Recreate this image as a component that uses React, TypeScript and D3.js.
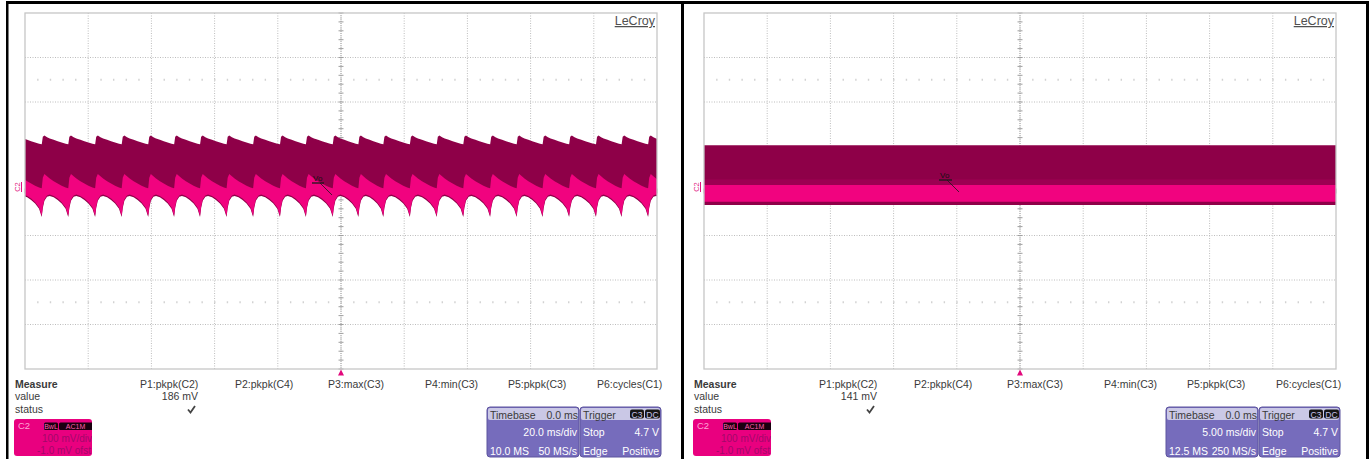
import React from "react";
import * as d3 from "d3";

// left capture: C2 ripple at 20 ms/div, jump (cusp) times, ms
const leftCycleStarts = [
  -103.1, -94.7, -86.3, -77.8, -69.4, -61.0, -52.8, -44.6, -36.2, -27.8, -19.3, -11.1, -2.6,
  5.5, 13.4, 21.8, 30.3, 38.7, 47.2, 55.6, 63.8, 72.2, 80.7, 88.8, 97.2, 105.5,
];
// one ripple cycle, fraction of the cycle -> mV
const ripplePhase = [0, 0.04, 0.1, 0.2, 0.3, 0.45, 0.6, 0.75, 0.9, 0.995];
const rippleTop = [105, 122, 125, 121, 118, 115, 112, 109, 106, 105];
const ripplePinkTop = [7, 30, 38, 33, 28, 22, 17, 12, 8, 6];
const rippleBottom = [-58, -38, -22, -13, -11, -14, -20, -28, -40, -58];

// right capture: 5 ms/div, flat band, mV
const rightTimes = [-25, 25];
const rightTop = [103, 103];
const rightMidTop = [26, 26];
const rightPinkTop = [13.5, 13.5];
const rightPinkBottom = [-24, -24];
const rightBottom = [-31.5, -31.5];

const measureNames = ["P1:pkpk(C2)", "P2:pkpk(C4)", "P3:max(C3)", "P4:min(C3)", "P5:pkpk(C3)", "P6:cycles(C1)"];
const measureValues = ["186 mV", "141 mV"];
const timebaseDiv = ["20.0 ms/div", "5.00 ms/div"];
const timebaseSamples = ["10.0 MS", "12.5 MS"];
const timebaseRate = ["50 MS/s", "250 MS/s"];

const FONT = "'Liberation Sans', Arial, Helvetica, sans-serif";
const DARK = "#8e0048";
const PINK = "#f1037f";
const TXT = "#3a3a3a";
const PURPLE = "#766cbc";

type Pt = { t: number; top: number; mid?: number; pinkTop: number; pinkBottom: number; bottom: number };

function leftPoints(): Pt[] {
  const pts: Pt[] = [];
  for (let i = 0; i < leftCycleStarts.length - 1; i++) {
    const t0 = leftCycleStarts[i];
    const t1 = leftCycleStarts[i + 1];
    ripplePhase.forEach((p, j) => {
      pts.push({
        t: t0 + p * (t1 - t0),
        top: rippleTop[j],
        pinkTop: ripplePinkTop[j],
        pinkBottom: rippleBottom[j],
        bottom: rippleBottom[j],
      });
    });
  }
  return pts;
}

function rightPoints(): Pt[] {
  return rightTimes.map((t, i) => ({
    t,
    top: rightTop[i],
    mid: rightMidTop[i],
    pinkTop: rightPinkTop[i],
    pinkBottom: rightPinkBottom[i],
    bottom: rightBottom[i],
  }));
}

function Scope({ idx, ox, halfSpan, pts }: { idx: number; ox: number; halfSpan: number; pts: Pt[] }) {
  const left = ox + 25;
  const right = ox + 657;
  const top = 13;
  const bottom = 369;
  const x = d3.scaleLinear().domain([-halfSpan, halfSpan]).range([left, right]);
  const y = d3.scaleLinear().domain([-400, 400]).range([bottom, top]);
  const xc = x(0);
  const yc = y(0);
  const xStep = (halfSpan * 2) / 10;
  const minorX = d3.range(-halfSpan, halfSpan + 1e-9, xStep / 5);
  const minorY = d3.range(-400, 400.001, 20);
  const clipId = "plotclip" + idx;
  const boxClip = "boxclip" + idx;

  const dark = d3.area<Pt>().x(d => x(d.t)).y0(d => y(d.bottom)).y1(d => y(d.top));
  const pink = d3.area<Pt>().x(d => x(d.t)).y0(d => y(d.pinkBottom) - (idx === 0 ? 1.3 : 0)).y1(d => y(d.pinkTop));
  const mid = d3.area<Pt>().x(d => x(d.t)).y0(d => y(d.pinkTop)).y1(d => y(d.mid ?? d.pinkTop));

  const px = [140, 235, 328, 425, 508, 597];
  const vo = idx === 0 ? { x: 312, y: 183, dx: 12 } : { x: 939, y: 180, dx: 13 };

  return (
    <g fontFamily={FONT}>
      <defs>
        <clipPath id={clipId}>
          <rect x={left} y={top} width={right - left} height={bottom - top} />
        </clipPath>
        <clipPath id={boxClip}>
          <rect x={ox + 14} y={419} width={78} height={37} rx={3} />
        </clipPath>
      </defs>
      {/* grid */}
      {x.ticks(10).slice(1, -1).map(t => (
        <line key={"gx" + t} x1={x(t)} x2={x(t)} y1={top} y2={bottom} stroke="#bdbdbd" strokeDasharray="1 1.5" />
      ))}
      {y.ticks(8).slice(1, -1).map(t => (
        <line key={"gy" + t} x1={left} x2={right} y1={y(t)} y2={y(t)} stroke="#bdbdbd" strokeDasharray="1 1.5" />
      ))}
      {[250, -250].map(v =>
        minorX.slice(1, -1).map(t => (
          <rect key={"r" + v + t} x={x(t) - 0.5} y={y(v) - 1} width={1.4} height={2} fill="#d2d2d2" />
        ))
      )}
      <line x1={xc} x2={xc} y1={top} y2={bottom} stroke="#aaaaaa" strokeDasharray="1 1" />
      {minorY.map(v => (
        <line key={"ty" + v} x1={xc - 2.5} x2={xc + 2.5} y1={y(v)} y2={y(v)} stroke="#a0a0a0" />
      ))}
      <line x1={left} x2={right} y1={yc} y2={yc} stroke="#aaaaaa" strokeDasharray="1 1" />
      {minorX.map(t => (
        <line key={"tx" + t} x1={x(t)} x2={x(t)} y1={yc - 2.5} y2={yc + 2.5} stroke="#a0a0a0" />
      ))}
      {/* traces */}
      <g clipPath={`url(#${clipId})`}>
        <path d={dark(pts) ?? ""} fill={DARK} />
        {idx === 1 && <path d={mid(pts) ?? ""} fill="#9d0052" />}
        <path d={pink(pts) ?? ""} fill={PINK} />
      </g>
      <rect x={left} y={top} width={right - left} height={bottom - top} fill="none" stroke="#c6c6c6" strokeWidth={1.3} />
      <text x={right - 2} y={25} textAnchor="end" fontSize={12.5} fill="#505050" textDecoration="underline">LeCroy</text>
      {/* Vo label */}
      <g stroke="#1a1a1a" strokeWidth={0.8}>
        <line x1={vo.x} x2={vo.x + vo.dx} y1={vo.y} y2={vo.y} strokeWidth={1.3} />
        <line x1={vo.x + 8} x2={vo.x + 20} y1={vo.y} y2={vo.y + 12} />
      </g>
      <text x={vo.x + 1} y={vo.y - 2} fontSize={8} fill="#111">Vo</text>
      {/* channel marker */}
      <text transform={`translate(${ox + 20},${yc - 4}) rotate(-90)`} textAnchor="middle" fontSize={7.5} fill="#e0157f">C2</text>
      <line x1={ox + 21.5} x2={ox + 21.5} y1={yc - 9} y2={yc + 1} stroke="#e0157f" strokeWidth={1} />
      {/* trigger marker */}
      <path d={`M${xc - 3},375.5 L${xc},369.5 L${xc + 3},375.5 Z`} fill="#e2087c" />
      {/* measure table */}
      <g fontSize={10.5} fill={TXT}>
        <text x={ox + 15} y={388} fontWeight="bold">Measure</text>
        <text x={ox + 15} y={400}>value</text>
        <text x={ox + 15} y={413}>status</text>
        {measureNames.map((m, i) => (
          <text key={m} x={ox + px[i]} y={388}>{m}</text>
        ))}
        <text x={ox + 198} y={400} textAnchor="end">{measureValues[idx]}</text>
      </g>
      <path d={`M${ox + 188},409.5 L${ox + 190.5},412.5 L${ox + 195},406`} fill="none" stroke="#444" strokeWidth={1.8} />
      {/* channel box */}
      <rect x={ox + 14} y={419} width={78} height={37} rx={3} fill="#e9007f" />
      <g clipPath={`url(#${boxClip})`}>
        <text x={ox + 18} y={428.5} fontSize={9.5} fill="#ffa6d6">C2</text>
        <rect x={ox + 44} y={422.5} width={14} height={7.5} rx={1.5} fill="#1a0010" />
        <rect x={ox + 59} y={422.5} width={34} height={7.5} rx={1.5} fill="#1a0010" />
        <text x={ox + 51} y={429} fontSize={7} textAnchor="middle" fill="#ff5fae">BwL</text>
        <text x={ox + 75.5} y={429} fontSize={7} textAnchor="middle" fill="#ff5fae">AC1M</text>
        <text x={ox + 92} y={441.5} fontSize={10} textAnchor="end" fill="#a3086a">100 mV/div</text>
        <text x={ox + 37} y={453.5} fontSize={10} fill="#a3086a">-1.0 mV ofst</text>
      </g>
      {/* timebase box */}
      <rect x={ox + 487} y={407} width={92} height={50} rx={3} fill={PURPLE} stroke="#5d549e" />
      <rect x={ox + 488} y={408} width={90} height={12} rx={2} fill="#cac8e6" />
      <g fontSize={10.5}>
        <text x={ox + 490} y={418.5} fill={TXT}>Timebase</text>
        <text x={ox + 578} y={418.5} textAnchor="end" fill={TXT}>0.0 ms</text>
        <text x={ox + 577} y={436} textAnchor="end" fill="#fff">{timebaseDiv[idx]}</text>
        <text x={ox + 490} y={454.5} fill="#fff">{timebaseSamples[idx]}</text>
        <text x={ox + 577} y={454.5} textAnchor="end" fill="#fff">{timebaseRate[idx]}</text>
      </g>
      {/* trigger box */}
      <rect x={ox + 580} y={407} width={81} height={50} rx={3} fill={PURPLE} stroke="#5d549e" />
      <rect x={ox + 581} y={408} width={79} height={12} rx={2} fill="#cac8e6" />
      <rect x={ox + 630} y={409.5} width={14} height={9} rx={2} fill="#151515" />
      <rect x={ox + 645} y={409.5} width={15} height={9} rx={2} fill="#151515" />
      <g fontSize={10.5}>
        <text x={ox + 583} y={418.5} fill={TXT}>Trigger</text>
        <text x={ox + 637} y={417.5} fontSize={8.5} textAnchor="middle" fill="#c9c6ea">C3</text>
        <text x={ox + 652.5} y={417.5} fontSize={8.5} textAnchor="middle" fill="#c9c6ea">DC</text>
        <text x={ox + 583} y={436} fill="#fff">Stop</text>
        <text x={ox + 659} y={436} textAnchor="end" fill="#fff">4.7 V</text>
        <text x={ox + 583} y={454.5} fill="#fff">Edge</text>
        <text x={ox + 659} y={454.5} textAnchor="end" fill="#fff">Positive</text>
      </g>
    </g>
  );
}

export default function App() {
  return (
    <svg width={1370} height={459} style={{ position: "absolute", left: 0, top: 0, background: "#fff" }}>
      <rect x={0} y={0} width={1370} height={459} fill="#fff" />
      <Scope idx={0} ox={0} halfSpan={100} pts={leftPoints()} />
      <Scope idx={1} ox={679} halfSpan={25} pts={rightPoints()} />
      {/* frame */}
      <g fill="#000">
        <rect x={6} y={1} width={1363} height={3} />
        <rect x={6} y={1} width={2.5} height={458} />
        <rect x={681} y={1} width={3} height={458} />
        <rect x={1366} y={1} width={3} height={458} />
      </g>
    </svg>
  );
}
